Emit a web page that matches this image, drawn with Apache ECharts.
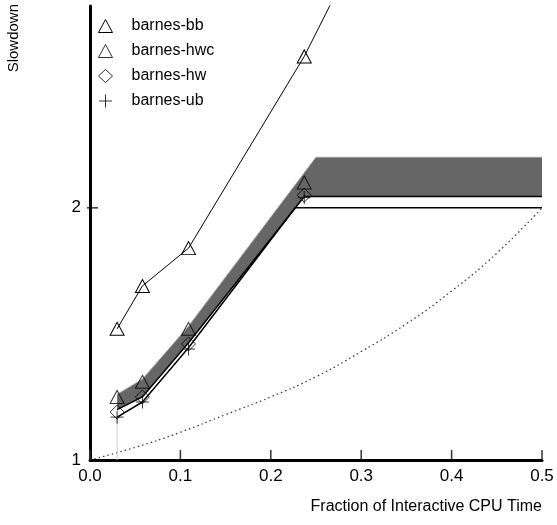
<!DOCTYPE html>
<html>
<head>
<meta charset="utf-8">
<script src="https://cdn.jsdelivr.net/npm/echarts@6/dist/echarts.min.js"></script>
<style>html,body{margin:0;padding:0;background:#fff}#c{width:557px;height:525px}</style>
</head>
<body>
<div id="c"></div>
<script>
// ---- data ----
const xTicks = [0, 0.1, 0.2, 0.3, 0.4, 0.5];
const yTicks = [1, 2];
const seriesNames = ['barnes-bb', 'barnes-hwc', 'barnes-hw', 'barnes-ub'];
const pointX = [0.03, 0.058, 0.109, 0.237];
const bbX = [0.03, 0.058, 0.109, 0.237, 0.5];
const bbY = [1.52, 1.69, 1.84, 2.6, 4.47];
const hwcY = [1.25, 1.31, 1.52, 2.10];
const hwY = [1.19, 1.25, 1.46, 2.05];
const ubY = [1.17, 1.23, 1.44, 2.04];
const bandUpperX = [0.03, 0.058, 0.109, 0.25, 0.5];
const bandUpperY = [1.26, 1.32, 1.53, 2.2, 2.2];
const bandLowerX = [0.03, 0.058, 0.109, 0.237, 0.5];
const bandLowerY = [1.20, 1.25, 1.465, 2.045, 2.045];
const boundX = [0.03, 0.058, 0.109, 0.227, 0.5];
const boundY = [1.17, 1.23, 1.445, 2.0, 2.0];
const dotX = [0, 0.05, 0.1, 0.15, 0.2, 0.25, 0.3, 0.35, 0.4, 0.45, 0.5];
const dotY = [1.00, 1.05, 1.11, 1.18, 1.25, 1.33, 1.43, 1.54, 1.67, 1.82, 2.00];
const guideX = [0.03, 0.03];
const guideY = [1.0, 1.17];

const zip = (xs, ys) => xs.map((x, i) => [x, ys[i]]);
const FONT = "'Liberation Sans', Arial, Helvetica, sans-serif";
const PLUS = 'path://M5,0L5,10M0,5L10,5';
const Y_MIN = 1, Y_MAX = 2.8, X_MIN = 0, X_MAX = 0.5;

const chart = echarts.init(document.getElementById('c'), null, {renderer: 'canvas'});
chart.setOption({
  animation: false,
  backgroundColor: '#fff',
  textStyle: {fontFamily: FONT, color: '#000'},
  grid: {left: 90, right: 15, top: 6, bottom: 65, containLabel: false},
  xAxis: {
    type: 'value', min: X_MIN, max: X_MAX, interval: 0.1,
    name: 'Fraction of Interactive CPU Time',
    nameLocation: 'end', nameGap: 0,
    nameTextStyle: {fontFamily: FONT, fontSize: 16, color: '#000', align: 'right', verticalAlign: 'top', padding: [39, 0, 0, 0]},
    axisLine: {show: true, lineStyle: {color: '#000', width: 3}},
    axisTick: {show: false},
    axisLabel: {fontFamily: FONT, fontSize: 17, color: '#000', margin: 8, formatter: v => v.toFixed(1)},
    splitLine: {show: false}
  },
  yAxis: {
    type: 'value', min: Y_MIN, max: Y_MAX, interval: 1,
    axisLine: {show: true, lineStyle: {color: '#000', width: 3}},
    axisTick: {show: false},
    axisLabel: {fontFamily: FONT, fontSize: 17, color: '#000', margin: 9, customValues: yTicks},
    splitLine: {show: false}
  },
  graphic: [{
    type: 'text', left: 6, top: 4, rotation: Math.PI / 2,
    style: {text: 'Slowdown', fontFamily: FONT, fontSize: 15, fill: '#000'}
  }],
  legend: {
    orient: 'vertical', left: 98, top: 18, padding: 0,
    itemWidth: 14, itemHeight: 13, itemGap: 9,
    itemStyle: {color: 'rgba(255,255,255,0)', borderColor: '#000', borderWidth: 1},
    textStyle: {fontFamily: FONT, fontSize: 16, color: '#000', padding: [0, 0, 0, 14]},
    data: [
      {name: 'barnes-bb', icon: 'triangle'},
      {name: 'barnes-hwc', icon: 'triangle'},
      {name: 'barnes-hw', icon: 'diamond'},
      {name: 'barnes-ub', icon: PLUS}
    ]
  },
  series: [
    {
      type: 'custom', name: 'band', silent: true, z: 1,
      data: [[0.3, 2.1]],
      renderItem: function (params, api) {
        const up = zip(bandUpperX, bandUpperY).map(p => api.coord(p));
        const lo = zip(bandLowerX, bandLowerY).map(p => api.coord(p));
        return {
          type: 'group',
          children: [
            {type: 'polygon', shape: {points: up.concat(lo.slice().reverse())}, style: {fill: '#666666'}},
            {type: 'polyline', shape: {points: up}, style: {stroke: '#999', lineWidth: 1, fill: null}},
            {type: 'polyline', shape: {points: lo}, style: {stroke: '#000', lineWidth: 1.5, fill: null}}
          ]
        };
      }
    },
    {
      // axis ticks, positioned through the axes' scales
      type: 'custom', name: 'ticks', silent: true, z: 10, clip: false,
      data: [[0.25, 1.9]],
      renderItem: function (params, api) {
        const children = [];
        xTicks.forEach(v => {
          const p = api.coord([v, Y_MIN]);
          children.push({type: 'rect', shape: {x: p[0] - 0.75, y: p[1] - 10, width: 1.5, height: 9},
            style: {fill: '#333'}});
        });
        yTicks.forEach(v => {
          if (v === Y_MIN) return;
          const p = api.coord([X_MIN, v]);
          children.push({type: 'rect', shape: {x: p[0] - 3, y: p[1] - 0.5, width: 11, height: 1.2},
            style: {fill: '#000'}});
        });
        return {type: 'group', children: children};
      }
    },
    {
      type: 'line', name: 'bound', data: zip(boundX, boundY), symbol: 'none', z: 2,
      lineStyle: {color: '#000', width: 1.5}, silent: true
    },
    {
      type: 'line', name: 'dotted', data: zip(dotX, dotY), symbol: 'none', smooth: true, z: 2,
      lineStyle: {color: '#333', width: 1.2, type: [1.5, 3]}, silent: true
    },
    {
      type: 'line', name: 'guide', data: zip(guideX, guideY), symbol: 'none', z: 2,
      lineStyle: {color: '#ccc', width: 1}, silent: true
    },
    {
      type: 'line', name: 'barnes-bb', data: zip(bbX, bbY), clip: true, z: 5,
      symbol: 'triangle', symbolSize: [14, 13],
      showAllSymbol: true,
      itemStyle: {color: 'rgba(255,255,255,0)', borderColor: '#000', borderWidth: 1},
      lineStyle: {color: '#000', width: 1}
    },
    {
      type: 'scatter', name: 'barnes-hwc', data: zip(pointX, hwcY), z: 5,
      symbol: 'triangle', symbolSize: [14, 13],
      itemStyle: {color: 'rgba(255,255,255,0)', borderColor: '#000', borderWidth: 1}
    },
    {
      type: 'scatter', name: 'barnes-hw', data: zip(pointX, hwY), z: 6,
      symbol: 'diamond', symbolSize: [14, 14],
      itemStyle: {color: 'rgba(255,255,255,0)', borderColor: '#000', borderWidth: 1}
    },
    {
      type: 'scatter', name: 'barnes-ub', data: zip(pointX, ubY), z: 7,
      symbol: PLUS, symbolSize: [13, 13],
      itemStyle: {color: 'rgba(255,255,255,0)', borderColor: '#000', borderWidth: 1}
    }
  ]
});
</script>
</body>
</html>
